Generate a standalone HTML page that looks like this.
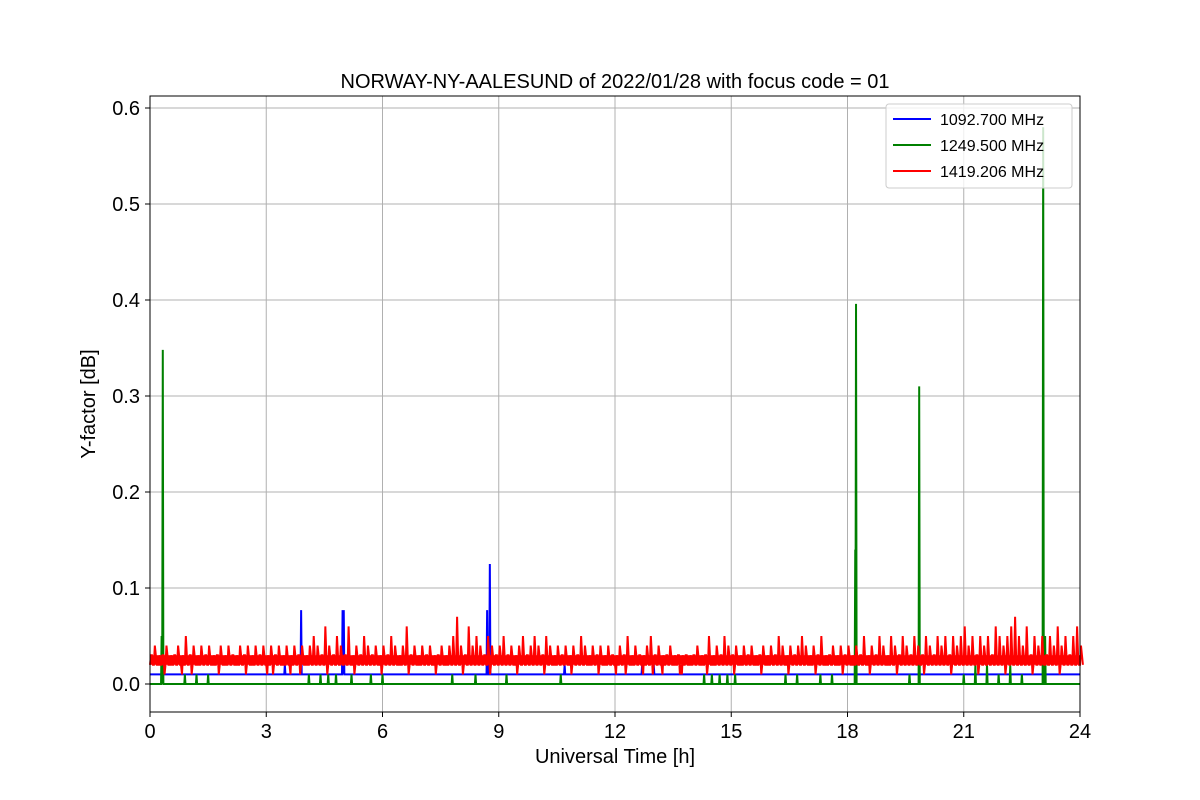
<!DOCTYPE html>
<html><head><meta charset="utf-8"><style>
body{margin:0;background:#fff}
svg{display:block;font-family:"Liberation Sans","DejaVu Sans",sans-serif}
</style></head><body>
<svg id="chart" width="1200" height="800">
<rect width="1200" height="800" fill="#fff"/>
<text x="615" y="88" font-size="20" text-anchor="middle">NORWAY-NY-AALESUND of 2022/01/28 with focus code = 01</text>
<g id="grid"></g>
<g id="series"></g>
<rect x="150" y="96" width="930" height="616" fill="none" stroke="#000" stroke-width="1"/>
<g id="ticks"></g>
<text x="615" y="763" font-size="20" text-anchor="middle">Universal Time [h]</text>
<text x="95" y="404" font-size="20" text-anchor="middle" transform="rotate(-90 95 404)">Y-factor [dB]</text>
<g>
<rect x="886" y="104" width="186" height="84" rx="3" fill="#fff" fill-opacity="0.8" stroke="#ccc"/>
<g><line x1="893" y1="119" x2="931" y2="119" stroke="blue" stroke-width="2"/><text x="940" y="125" font-size="16">1092.700 MHz</text></g>
<g><line x1="893" y1="145" x2="931" y2="145" stroke="green" stroke-width="2"/><text x="940" y="151" font-size="16">1249.500 MHz</text></g>
<g><line x1="893" y1="171" x2="931" y2="171" stroke="red" stroke-width="2"/><text x="940" y="177" font-size="16">1419.206 MHz</text></g>
</g>
</svg>
<script>
const xTicks=[0,3,6,9,12,15,18,21,24];
const yTicks=[0.0,0.1,0.2,0.3,0.4,0.5,0.6];
const yTickLabels=["0.0","0.1","0.2","0.3","0.4","0.5","0.6"];
const blueBase=0.01;
const blueSpikeTimes=[3.48,3.9,4.97,5.0,8.7,8.77,10.7,12.7,13.0];
const blueSpikeVals=[0.02,0.077,0.077,0.077,0.077,0.125,0.02,0.02,0.02];
const greenBase=0.0;
const greenSpikeTimes=[0.3,0.33,0.9,1.2,1.5,4.1,4.4,4.6,4.8,5.2,5.7,6.0,7.8,8.4,9.2,10.6,14.3,14.5,14.7,14.9,15.1,16.4,16.7,17.3,17.6,18.2,18.22,19.6,19.85,21.0,21.3,21.6,21.9,22.2,22.5,23.05,23.1];
const greenSpikeVals=[0.05,0.348,0.01,0.01,0.01,0.01,0.01,0.01,0.01,0.01,0.01,0.01,0.01,0.01,0.01,0.01,0.01,0.01,0.01,0.01,0.01,0.01,0.01,0.01,0.01,0.14,0.396,0.01,0.31,0.01,0.02,0.02,0.01,0.02,0.01,0.58,0.05];
const redTimes0=0,redStep=0.1;
const redVals=[0.03,0.04,0.02,0.03,0.04,0.02,0.03,0.04,0.01,0.05,0.03,0.04,0.02,0.04,0.03,0.04,0.02,0.03,0.04,0.02,
0.04,0.03,0.02,0.04,0.03,0.04,0.02,0.04,0.03,0.04,0.01,0.04,0.03,0.04,0.02,0.04,0.01,0.04,0.03,0.04,
0.02,0.04,0.05,0.04,0.03,0.06,0.04,0.03,0.05,0.04,0.03,0.06,0.02,0.04,0.03,0.05,0.04,0.03,0.04,0.02,
0.04,0.03,0.05,0.04,0.02,0.04,0.06,0.03,0.04,0.02,0.04,0.03,0.04,0.02,0.03,0.04,0.02,0.04,0.05,0.07,
0.04,0.03,0.06,0.04,0.05,0.04,0.03,0.05,0.04,0.03,0.04,0.05,0.03,0.04,0.02,0.04,0.05,0.03,0.04,0.05,
0.04,0.03,0.05,0.04,0.02,0.04,0.03,0.04,0.02,0.04,0.03,0.05,0.04,0.02,0.04,0.03,0.04,0.02,0.04,0.03,
0.01,0.04,0.03,0.05,0.02,0.04,0.03,0.01,0.04,0.05,0.03,0.04,0.01,0.03,0.04,0.02,0.03,0.01,0.03,0.02,
0.03,0.04,0.02,0.03,0.05,0.02,0.04,0.03,0.05,0.04,0.03,0.04,0.02,0.04,0.03,0.04,0.02,0.03,0.04,0.02,
0.04,0.03,0.05,0.04,0.02,0.04,0.03,0.04,0.05,0.04,0.02,0.04,0.03,0.05,0.02,0.03,0.04,0.02,0.04,0.03,
0.04,0.02,0.04,0.03,0.05,0.02,0.04,0.03,0.05,0.04,0.02,0.05,0.04,0.03,0.05,0.04,0.03,0.05,0.04,0.03,
0.05,0.04,0.03,0.05,0.04,0.05,0.03,0.05,0.04,0.05,0.06,0.04,0.05,0.03,0.05,0.04,0.05,0.03,0.06,0.05,
0.04,0.05,0.06,0.07,0.05,0.04,0.06,0.03,0.05,0.04,0.05,0.03,0.05,0.04,0.06,0.04,0.05,0.03,0.05,0.06,0.04];
const redLow=[0.02,0.01];
const NS="http://www.w3.org/2000/svg";
const X=t=>150+t*930/24, Y=v=>684-v*960;
const grid=document.getElementById('grid'),ticks=document.getElementById('ticks'),ser=document.getElementById('series');
function mk(tag,at,p){const e=document.createElementNS(NS,tag);for(const k in at)e.setAttribute(k,at[k]);p.appendChild(e);return e;}
xTicks.forEach(t=>{
 const g=mk('line',{x1:X(t),x2:X(t),y1:96,y2:712,stroke:'#b0b0b0','stroke-width':1},grid);
 
 
 mk('line',{x1:X(t),x2:X(t),y1:712,y2:717,stroke:'#000'},ticks);
 const l=mk('text',{x:X(t),y:738,'font-size':20,'text-anchor':'middle'},ticks);l.textContent=t;
 
 
});
yTicks.forEach((v,i)=>{
 const g=mk('line',{x1:150,x2:1080,y1:Y(v),y2:Y(v),stroke:'#b0b0b0','stroke-width':1},grid);
 
 
 mk('line',{x1:145,x2:150,y1:Y(v),y2:Y(v),stroke:'#000'},ticks);
 const l=mk('text',{x:140,y:Y(v)+7,'font-size':20,'text-anchor':'end'},ticks);l.textContent=yTickLabels[i];
 
 
});
function spikes(base,ts,vs,color,name){
 let d=`M${X(0)},${Y(base)}`;
 ts.forEach((t,i)=>{d+=` L${X(t-0.015)},${Y(base)} L${X(t)},${Y(vs[i])} L${X(t+0.015)},${Y(base)}`;});
 d+=` L${X(24)},${Y(base)}`;
 const p=mk('path',{d:d,fill:'none',stroke:color,'stroke-width':2},ser);
 
 
}
spikes(blueBase,blueSpikeTimes,blueSpikeVals,'blue','series-1092mhz');
spikes(greenBase,greenSpikeTimes,greenSpikeVals,'green','series-1249mhz');
let d='';
redVals.forEach((v,i)=>{
 const t=redTimes0+i*redStep;
 const lo=redLow[i%7===3?1:0];
 d+=(i?' L':'M')+X(t)+','+Y(0.02)+` L${X(t+0.025)},${Y(v)} L${X(t+0.05)},${Y(0.03)} L${X(t+0.075)},${Y(lo)}`;
});
const rp=mk('path',{d:d,fill:'none',stroke:'red','stroke-width':2},ser);


const band=mk('rect',{x:X(0),y:Y(0.03),width:X(24)-X(0),height:Y(0.02)-Y(0.03),fill:'red'},ser);


</script>
</body></html>
